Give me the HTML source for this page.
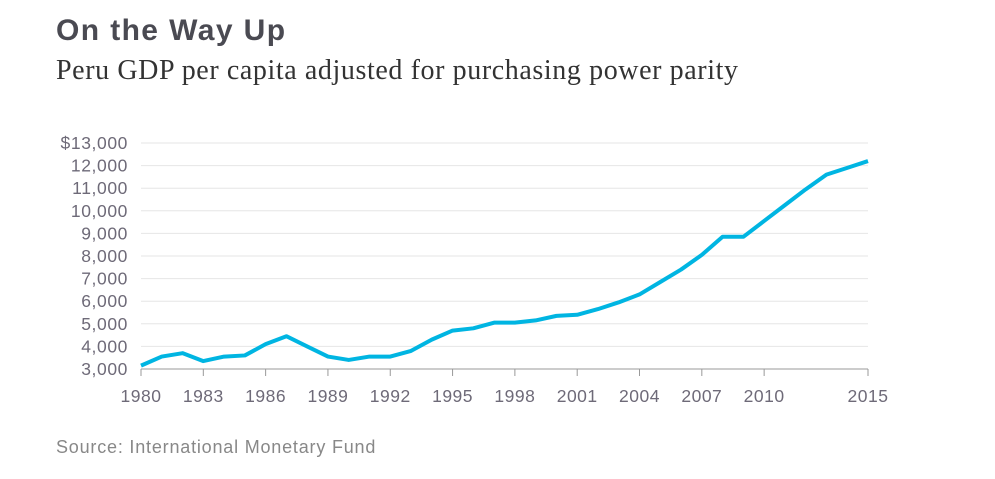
<!DOCTYPE html>
<html><head><meta charset="utf-8"><style>
body{margin:0;background:#fff;width:995px;height:479px;overflow:hidden;position:relative;font-family:"Liberation Sans",sans-serif}
#title{position:absolute;left:56px;top:14px;font-size:30px;letter-spacing:1.4px;font-weight:bold;color:#4a4a52}
#sub{position:absolute;left:56px;top:55px;font-family:"Liberation Serif",serif;font-size:28px;letter-spacing:0.6px;color:#333}
#src{position:absolute;left:56px;top:437px;font-size:18px;letter-spacing:0.8px;color:#888}
svg{position:absolute;left:0;top:0}
</style></head><body>
<div id="title">On the Way Up</div>
<div id="sub">Peru GDP per capita adjusted for purchasing power parity</div>
<svg id="chart" width="995" height="479"></svg>
<div id="src">Source: International Monetary Fund</div>
<script>
const years=[1980,1981,1982,1983,1984,1985,1986,1987,1988,1989,1990,1991,1992,1993,1994,1995,1996,1997,1998,1999,2000,2001,2002,2003,2004,2005,2006,2007,2008,2009,2010,2011,2012,2013,2014,2015];
const gdp=[3150,3550,3700,3350,3550,3600,4100,4450,4000,3550,3400,3550,3550,3800,4300,4700,4800,5050,5050,5150,5350,5400,5650,5950,6300,6850,7400,8050,8850,8850,9550,10250,10950,11600,11900,12200];
const yTicks=[3000,4000,5000,6000,7000,8000,9000,10000,11000,12000,13000];
const xTicks=[1980,1983,1986,1989,1992,1995,1998,2001,2004,2007,2010,2015];
const NS="http://www.w3.org/2000/svg";
const svg=document.getElementById('chart');
const x=v=>141+(v-1980)*(868-141)/35;
const y=v=>369-(v-3000)*(369-143)/10000;
function mk(t,a){const e=document.createElementNS(NS,t);for(const k in a)e.setAttribute(k,a[k]);svg.appendChild(e);return e;}
yTicks.forEach(v=>{
  const l=mk('line',{x1:141,x2:868,y1:y(v),y2:y(v),stroke:v===3000?'#999':'#e6e6e6','stroke-width':1});
  
  
  const t=mk('text',{x:128,y:y(v)+6,'text-anchor':'end','font-size':17.5,'letter-spacing':0.6,fill:'#6e6a78','font-family':'Liberation Sans'});
  t.textContent=(v===13000?'$':'')+v.toLocaleString('en-US');
  
  
});
xTicks.forEach(v=>{
  const l=mk('line',{x1:x(v),x2:x(v),y1:369,y2:376,stroke:'#999'});
  
  
  const t=mk('text',{x:x(v),y:402,'text-anchor':'middle','font-size':17.5,'letter-spacing':0.5,fill:'#6e6a78','font-family':'Liberation Sans'});
  t.textContent=v;
  
  
});
const p=mk('polyline',{points:years.map((yr,i)=>x(yr)+','+y(gdp[i])).join(' '),fill:'none',stroke:'#00b5e2','stroke-width':4,'stroke-linejoin':'round'});


</script>
</body></html>
